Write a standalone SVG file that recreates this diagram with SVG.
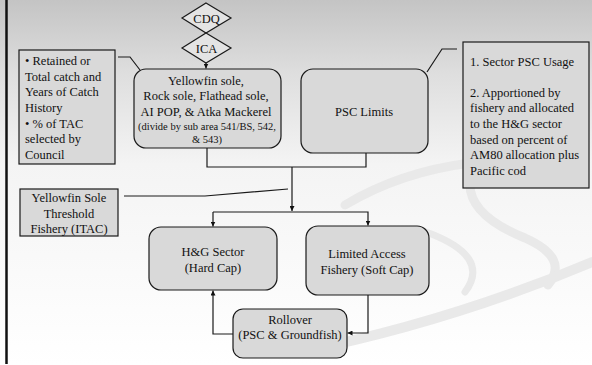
<svg xmlns="http://www.w3.org/2000/svg" width="592" height="365" viewBox="0 0 592 365" font-family="'Liberation Serif', 'DejaVu Serif', serif">
<defs>
<linearGradient id="bg" x1="0" y1="0" x2="0" y2="1">
<stop offset="0" stop-color="#c4c4c4"/>
<stop offset="0.2" stop-color="#dedede"/>
<stop offset="0.45" stop-color="#f4f4f4"/>
<stop offset="1" stop-color="#ffffff"/>
</linearGradient>
<marker id="ah" viewBox="0 0 10 10" refX="10" refY="5" markerWidth="5" markerHeight="5" markerUnits="userSpaceOnUse" orient="auto">
<path d="M0,0 L10,5 L0,10 z" fill="#111"/>
</marker>
<style>
text{font-family:'Liberation Serif','DejaVu Serif',serif;font-size:12.5px;fill:#111}
.c{text-anchor:middle}
.s{font-size:10.5px}
.box{fill:#d9d9d9;stroke:#1a1a1a;stroke-width:1.2}
.dia{fill:#e4e4e4;stroke:#1a1a1a;stroke-width:1.2}
.ln{fill:none;stroke:#1a1a1a;stroke-width:1.2}
.sw{fill:none;stroke:#e9e9e9;stroke-linecap:round}
</style>
</defs>
<rect x="0" y="0" width="592" height="365" fill="url(#bg)"/>
<g id="swoosh">
<path class="sw" stroke-width="9" d="M345,205 Q400,172 470,163"/>
<path class="sw" stroke-width="9" d="M470,182 Q468,215 525,238 Q570,258 548,285"/>
<path class="sw" stroke-width="7" d="M426,232 Q492,256 465,292"/>
<path class="sw" stroke-width="10" d="M300,352 Q450,322 592,262"/>
</g>
<line x1="6.5" y1="0" x2="6.5" y2="364" stroke="#111" stroke-width="2.5"/>

<g id="connectors">
<path class="ln" d="M206,63 V68.5" marker-end="url(#ah)"/>
<polyline class="ln" points="118,57 130,57 140,70"/>
<polyline class="ln" points="457,49 442,49 427,72"/>
<polyline class="ln" points="207,148 207,167 366,167 366,153"/>
<path class="ln" d="M292,167 V211" marker-end="url(#ah)"/>
<polyline class="ln" points="124,196 205,196 288,189"/>
<path class="ln" d="M213,212 V226.5" marker-end="url(#ah)"/>
<path class="ln" d="M213,212 H368 V225.5" marker-end="url(#ah)"/>
<path class="ln" d="M233,334 H213 V290.5" marker-end="url(#ah)"/>
<path class="ln" d="M368,295 V333 H347.5" marker-end="url(#ah)"/>
</g>

<g id="cdq">
<polygon class="dia" points="206,3 231,18 206,33 182,18"/>
<text class="c" x="206.5" y="22.5">CDQ</text>
</g>
<g id="ica">
<polygon class="dia" points="206,33 231,48 206,63 182,48"/>
<text class="c" x="206.5" y="53">ICA</text>
</g>

<g id="criteria">
<rect class="box" x="19" y="50" width="96" height="114"/>
<text x="25" y="65">• Retained or</text>
<text x="25" y="80.5">Total catch and</text>
<text x="25" y="96">Years of Catch</text>
<text x="25" y="112">History</text>
<text x="25" y="127.5">• % of TAC</text>
<text x="25" y="143">selected by</text>
<text x="25" y="158.5">Council</text>
</g>

<g id="species">
<rect class="box" x="134" y="69" width="147" height="79" rx="12"/>
<text class="c" x="206" y="84.5">Yellowfin sole,</text>
<text class="c" x="206" y="100">Rock sole, Flathead sole,</text>
<text class="c" x="206" y="116">AI POP, &amp; Atka Mackerel</text>
<text class="c s" x="207" y="130">(divide by sub area 541/BS, 542,</text>
<text class="c s" x="207" y="142.5">&amp; 543)</text>
</g>

<g id="psc">
<rect class="box" x="301" y="69" width="127" height="84" rx="12"/>
<text class="c" x="364" y="116">PSC Limits</text>
</g>

<g id="psc-notes">
<rect class="box" x="463" y="42" width="126" height="146"/>
<text x="470" y="65.5">1. Sector PSC Usage</text>
<text x="470" y="96.5">2. Apportioned by</text>
<text x="470" y="112">fishery and allocated</text>
<text x="470" y="127.5">to the H&amp;G sector</text>
<text x="470" y="143.5">based on percent of</text>
<text x="470" y="159">AM80 allocation plus</text>
<text x="470" y="174.5">Pacific cod</text>
</g>

<g id="threshold">
<rect class="box" x="20" y="189" width="98" height="47"/>
<text class="c" x="69" y="201.5">Yellowfin Sole</text>
<text class="c" x="69" y="217.5">Threshold</text>
<text class="c" x="69" y="233">Fishery (ITAC)</text>
</g>

<g id="hg">
<rect class="box" x="149" y="227" width="128" height="63" rx="12"/>
<text class="c" x="213" y="255.5">H&amp;G Sector</text>
<text class="c" x="213" y="271.5">(Hard Cap)</text>
</g>

<g id="limited">
<rect class="box" x="306" y="226" width="123" height="69" rx="12"/>
<text class="c" x="367" y="257.5">Limited Access</text>
<text class="c" x="367" y="273.5">Fishery (Soft Cap)</text>
</g>

<g id="rollover">
<rect class="box" x="233" y="309" width="114" height="49" rx="10"/>
<text class="c" x="290" y="323.5">Rollover</text>
<text class="c" x="290" y="338.5">(PSC &amp; Groundfish)</text>
</g>
</svg>
